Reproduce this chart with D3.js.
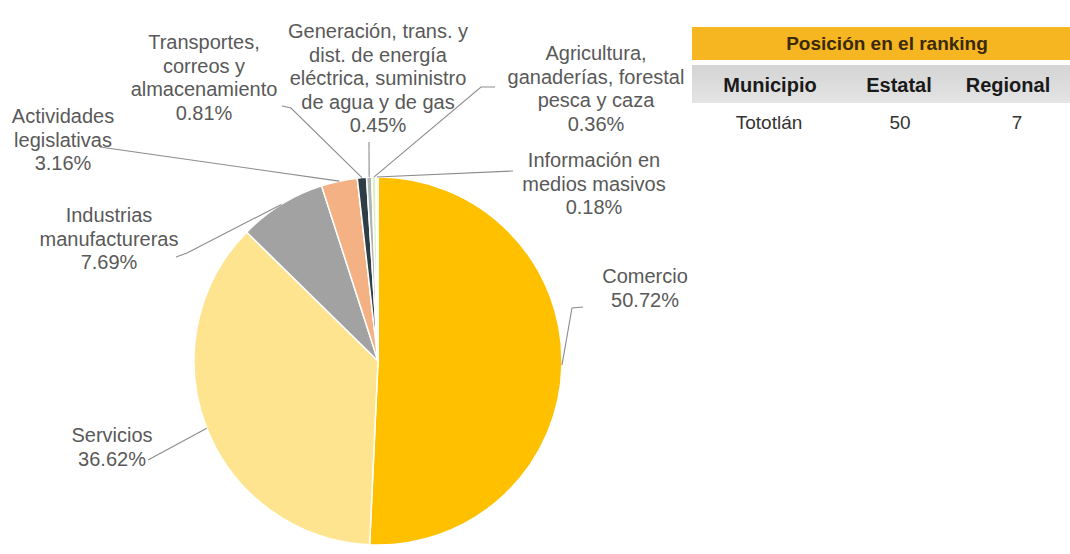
<!DOCTYPE html>
<html>
<head>
<meta charset="utf-8">
<script src="https://cdn.jsdelivr.net/npm/d3@7/dist/d3.min.js"></script>
<style>
  html, body { margin: 0; padding: 0; background: #ffffff; }
  svg { display: block; }
</style>
</head>
<body>
<script>
// ---------- DATA ----------
const categories = [
  "Comercio",
  "Servicios",
  "Industrias manufactureras",
  "Actividades legislativas",
  "Transportes, correos y almacenamiento",
  "Generación, trans. y dist. de energía eléctrica, suministro de agua y de gas",
  "Agricultura, ganaderías, forestal pesca y caza",
  "Información en medios masivos"
];
const values = [50.72, 36.62, 7.69, 3.16, 0.81, 0.45, 0.36, 0.18];
const labelLines = [
  ["Comercio"],
  ["Servicios"],
  ["Industrias", "manufactureras"],
  ["Actividades", "legislativas"],
  ["Transportes,", "correos y", "almacenamiento"],
  ["Generación, trans. y", "dist. de energía", "eléctrica, suministro", "de agua y de gas"],
  ["Agricultura,", "ganaderías, forestal", "pesca y caza"],
  ["Información en", "medios masivos"]
];
const tableTitle = "Posición en el ranking";
const tableHeaders = ["Municipio", "Estatal", "Regional"];
const tableRow = ["Tototlán", "50", "7"];

// ---------- STYLE / LAYOUT ----------
const W = 1070, H = 554;
const colors = ["#FFC000", "#FFE490", "#A2A2A2", "#F4B183", "#2F3E45", "#AEB6B2", "#E3EDC3", "#F3F3E6"];
const cx = 378, cy = 361, R = 184;
const fontFam = "'Liberation Sans', Arial, sans-serif";
const textColor = "#595959";
const lineH = 23.5;
// label anchor (center x, first baseline) and leader waypoints
const labelLayout = [
  { x: 645, y: 283, pts: [[572, 308], [583, 307]] },
  { x: 112, y: 442, pts: [[148, 460]] },
  { x: 109, y: 222, pts: [[187, 253], [176, 257]] },
  { x: 63,  y: 123, pts: [[100, 147]] },
  { x: 204, y: 49,  pts: [[291, 108], [282, 106]] },
  { x: 378, y: 38,  pts: [[369, 142]] },
  { x: 596, y: 60,  pts: [[481, 87], [495, 87]] },
  { x: 594, y: 167, pts: [[513, 171]] }
];

const svg = d3.select("body").append("svg")
  .attr("width", W).attr("height", H)
  .attr("viewBox", `0 0 ${W} ${H}`);

// ---------- PIE ----------
const pie = d3.pie().sort(null).value(d => d.value);
const arcs = pie(values.map((v, i) => ({ name: categories[i], value: v, i })));
const arc = d3.arc().innerRadius(0).outerRadius(R);

const g = svg.append("g").attr("transform", `translate(${cx},${cy})`);
g.selectAll("path.slice")
  .data(arcs)
  .join("path")
  .attr("class", "slice")
  .attr("d", arc)
  .attr("fill", d => colors[d.index])
  .attr("stroke", "#ffffff")
  .attr("stroke-width", 1.5)
  .attr("stroke-linejoin", "round");

// ---------- LEADER LINES ----------
const leaders = svg.append("g");
arcs.forEach((d, i) => {
  const a = (d.startAngle + d.endAngle) / 2;
  const start = [cx + R * Math.sin(a), cy - R * Math.cos(a)];
  const pts = [start].concat(labelLayout[i].pts);
  leaders.append("path")
    .attr("d", d3.line()(pts))
    .attr("fill", "none")
    .attr("stroke", "#8c8c8c")
    .attr("stroke-width", 1.1);
});

// ---------- LABELS ----------
const fmt = v => v.toFixed(2) + "%";
const labels = svg.append("g")
  .attr("font-family", fontFam)
  .attr("font-size", 20)
  .attr("fill", textColor)
  .attr("text-anchor", "middle");
arcs.forEach((d, i) => {
  const L = labelLayout[i];
  const lines = labelLines[i].concat([fmt(values[i])]);
  const t = labels.append("text").attr("x", L.x).attr("y", L.y);
  lines.forEach((ln, k) => {
    t.append("tspan").attr("x", L.x).attr("y", L.y + k * lineH).text(ln);
  });
});

// ---------- TABLE ----------
const tbl = svg.append("g").attr("font-family", fontFam).attr("text-anchor", "middle");
const tX0 = 692, tX1 = 1070;
const colX = [770, 899, 1008];
tbl.append("rect").attr("x", tX0).attr("y", 27).attr("width", tX1 - tX0).attr("height", 33)
  .attr("fill", "#F6B622");
tbl.append("text").attr("x", 887).attr("y", 50).attr("font-size", 19).attr("font-weight", "bold")
  .attr("fill", "#3a2a08").text(tableTitle);

const grad = svg.append("defs").append("linearGradient").attr("id", "gr")
  .attr("x1", 0).attr("y1", 0).attr("x2", 0).attr("y2", 1);
grad.append("stop").attr("offset", "0%").attr("stop-color", "#d4d4d4");
grad.append("stop").attr("offset", "100%").attr("stop-color", "#e4e4e4");
tbl.append("rect").attr("x", tX0).attr("y", 65).attr("width", tX1 - tX0).attr("height", 38)
  .attr("fill", "url(#gr)");
tableHeaders.forEach((h, i) => {
  tbl.append("text").attr("x", colX[i]).attr("y", 92).attr("font-size", 20).attr("font-weight", "bold")
    .attr("fill", "#1a1a1a").text(h);
});
const rowX = [769, 900, 1017];
tableRow.forEach((v, i) => {
  tbl.append("text").attr("x", rowX[i]).attr("y", 129).attr("font-size", 19)
    .attr("fill", "#333333").text(v);
});
</script>
</body>
</html>
